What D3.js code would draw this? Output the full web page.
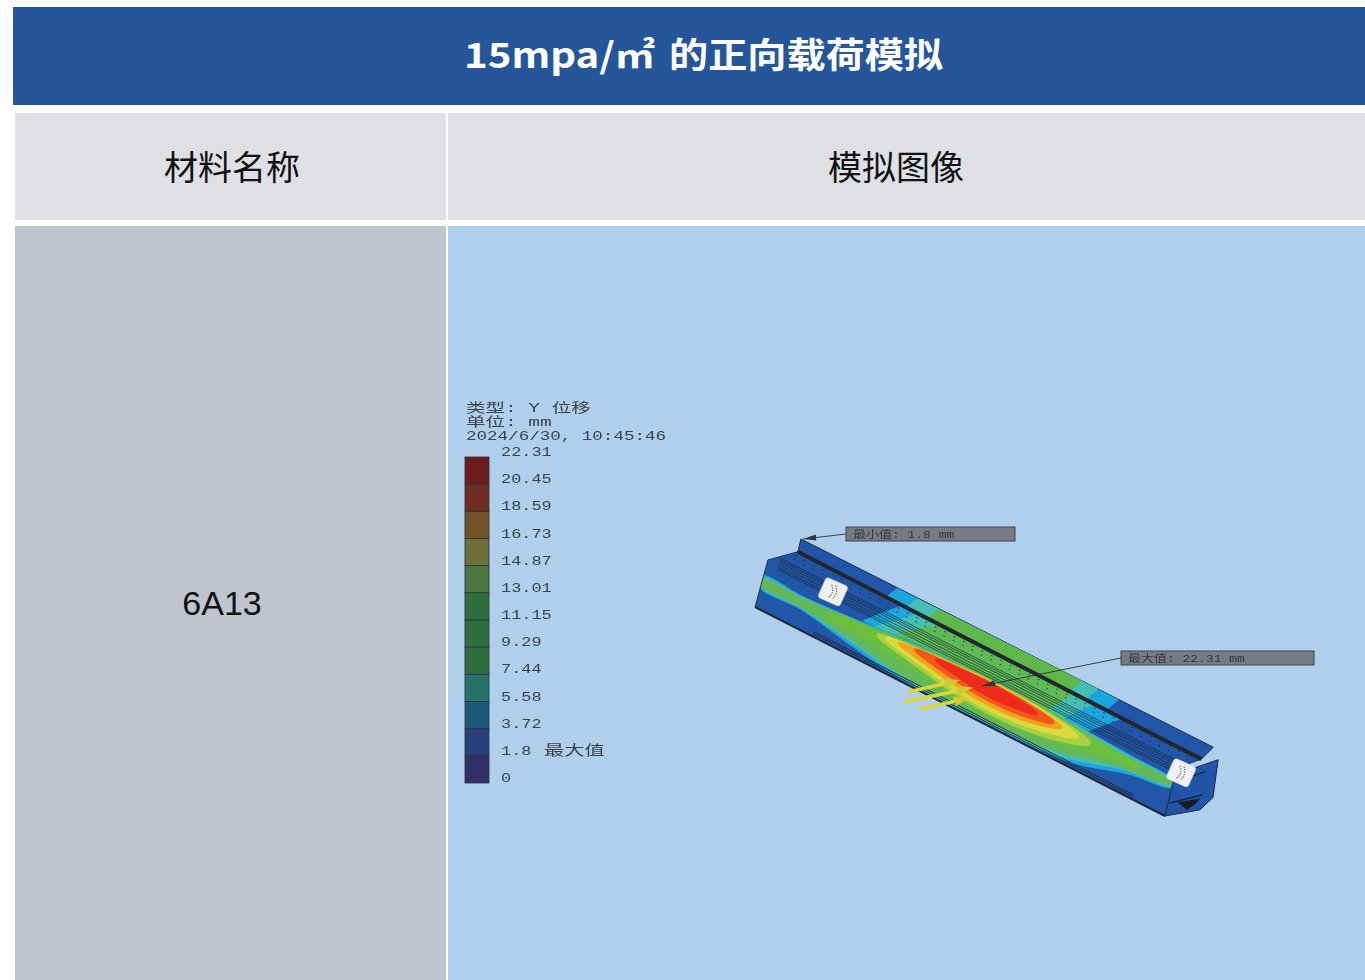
<!DOCTYPE html>
<html>
<head>
<meta charset="utf-8">
<script src="https://cdn.jsdelivr.net/npm/d3@7"></script>
<style>
  html, body { margin: 0; padding: 0; background: #fff; overflow: hidden; }
  svg { display: block; }
</style>
</head>
<body>
<svg id="chart" width="1365" height="980"></svg>
<script>
// legend
const legendValues = ['22.31', '20.45', '18.59', '16.73', '14.87', '13.01', '11.15', '9.29', '7.44', '5.58', '3.72', '1.8', '0'];
const legendColors = ['#6d1a1e', '#6f2e22', '#6f5228', '#6e6f38', '#4f7440', '#2f6f3c', '#2f6f3c', '#2f6f3c', '#25736a', '#1f5878', '#2a3f7c', '#322f66'];
const infoLines = ['类型: Y 位移', '单位: mm', '2024/6/30, 10:45:46'];

// contour bands on the main face, read as [along %, lower, upper] stations
const cyanBand = [[0, 38, 62], [10, 36, 62], [24, 16, 70], [36, 3, 80], [54, 2, 84], [76, 8, 80], [90, 40, 76], [100, 55, 70]];
const tealBand = [[0, 41, 59], [10, 38, 60], [24, 22, 68], [36, 7, 76], [54, 4, 84], [74, 10, 80], [88, 42, 74], [100, 58, 68]];
const greenBand = [[0, 43, 57], [10, 40, 58], [24, 26, 68], [36, 10, 76], [54, 6, 84], [72, 14, 80], [86, 42, 72], [100, 60, 66]];
const limeBand = [[16, 48, 56], [24, 42, 66], [38, 30, 78], [54, 16, 84], [70, 26, 80], [84, 50, 70], [92, 60, 65]];
const paleBand = [[28, 58, 63], [36, 42, 72], [54, 21, 82], [70, 30, 78], [80, 57, 64]];
const yellowBand = [[30, 60, 65], [38, 46, 74], [54, 26, 81], [68, 36, 77], [77, 58, 63]];
const orangeBand = [[33, 63, 67], [40, 50, 74], [54, 35, 80], [66, 42, 76], [73, 60, 65]];
const emberBand = [[37, 66, 70], [44, 53, 76], [54, 43, 79], [64, 47, 76], [71, 62, 67]];
const redBand = [[42, 67, 71], [48, 57, 76], [54, 50, 78], [60, 52, 76], [67, 63, 67]];
const faceBands = [cyanBand, tealBand, greenBand, limeBand, paleBand, yellowBand, orangeBand, emberBand, redBand];
const faceColors = ['#1fa6de', '#45bfb4', '#63b85a', '#6abf3c', '#a8cf44', '#d8dc3a', '#f6a11f', '#f4561e', '#ee2b1d'];

// upper face and flange, read as polygons of [along %, across %]
const upperCyan = [[24, 72], [32, 135], [86, 135], [78, 72]];
const upperTeal = [[27, 72], [36, 135], [79, 135], [72, 72]];
const upperGreen = [[31, 72], [41, 135], [74, 135], [68, 72]];
const flangeCyan = [[28, 135], [30, 160], [84, 163], [82, 135]];
const flangeTeal = [[33, 135], [35, 160], [79, 163], [77, 135]];
const flangeGreen = [[38, 135], [40, 160], [75, 163], [73, 135]];
const beamPatches = [upperCyan, upperTeal, upperGreen, flangeCyan, flangeTeal, flangeGreen];
const patchColors = ['#1fa6de', '#45bfb4', '#5dba55', '#1fa6de', '#45bfb4', '#5cb848'];

// outline of the extrusion
const faceOutline = [[0, 0], [100, 0], [100, 94], [105, 132], [6.5, 135], [0.4, 94]];
const flangeOutline = [[6.5, 135], [6.5, 160], [107, 163.5], [105, 132]];
const endOutline = [[100, 0], [100, 81], [108.7, 146], [109.5, 75], [107.3, 42]];
const endBars = [[[100.4, 68], [106.4, 113]], [[100.4, 27], [107, 70]]];
const endHatch = [[102, 35], [106.8, 62], [106, 48], [104.5, 30]];
const stringerLevels = [86, 90, 95, 100, 104, 108];
const dotLevels = [118, 126];
const edgeLevels = [5, 9];
const loadArrows = [[[37.7, -12], [48.4, 55]], [[37.5, -32], [51.6, 54]], [[41, -32], [51.5, 33]]];
const tags = [[16.2, 96], [101.3, 90]];

// callouts
const calloutMin = { text: '最小值: 1.8 mm', at: [7, 162] };
const calloutMax = { text: '最大值: 22.31 mm', at: [53.5, 64.6] };

const svg = d3.select('#chart');
const defs = svg.append('defs');
defs.append('filter').attr('id', 'soft').append('feGaussianBlur').attr('stdDeviation', 0.5);

// table background
svg.append('rect').attr('x', 13).attr('y', 7).attr('width', 1352).attr('height', 98).attr('fill', '#25569a');
svg.append('rect').attr('x', 15).attr('y', 113).attr('width', 431).attr('height', 107).attr('fill', '#dfe0e4');
svg.append('rect').attr('x', 448).attr('y', 113).attr('width', 917).attr('height', 107).attr('fill', '#dfe0e4');
svg.append('rect').attr('x', 15).attr('y', 226).attr('width', 431).attr('height', 754).attr('fill', '#c0c5cd');
svg.append('rect').attr('x', 448).attr('y', 226).attr('width', 917).attr('height', 754).attr('fill', '#b0cfec');

const cjk = '"Noto Sans CJK SC", "Noto Sans", sans-serif';

// title is two runs, stretched a bit wider than tall in the original
svg.append('text')
  .attr('x', 464).attr('y', 68)
  .attr('textLength', 191).attr('lengthAdjust', 'spacingAndGlyphs')
  .attr('font-family', cjk).attr('font-weight', 700).attr('font-size', 35)
  .attr('fill', '#fff')
  .text('15mpa/㎡');
svg.append('text')
  .attr('x', 669).attr('y', 68)
  .attr('textLength', 274).attr('lengthAdjust', 'spacingAndGlyphs')
  .attr('font-family', cjk).attr('font-weight', 700).attr('font-size', 35)
  .attr('fill', '#fff')
  .text('的正向载荷模拟');

svg.append('text').attr('x', 232).attr('y', 180).attr('text-anchor', 'middle')
  .attr('font-family', cjk).attr('font-size', 34).attr('fill', '#111').text('材料名称');
svg.append('text').attr('x', 896).attr('y', 180).attr('text-anchor', 'middle')
  .attr('font-family', cjk).attr('font-size', 34).attr('fill', '#111').text('模拟图像');
svg.append('text').attr('x', 222).attr('y', 615).attr('text-anchor', 'middle')
  .attr('font-family', '"Liberation Sans", Arial, sans-serif').attr('font-size', 34).attr('fill', '#111').text('6A13');

// legend
const legend = svg.append('g').attr('filter', 'url(#soft)');
const mono = '"Liberation Mono", "Noto Sans CJK SC", monospace';
const legendY = d3.scalePoint().domain(legendValues).range([457, 783]);

legend.selectAll('.swatch')
  .data(legendColors)
  .enter().append('rect')
  .attr('class', 'swatch')
  .attr('x', 465)
  .attr('y', (d, i) => legendY(legendValues[i]))
  .attr('width', 24)
  .attr('height', legendY.step())
  .attr('fill', d => d)
  .attr('stroke', '#2b3140')
  .attr('stroke-width', 0.8);

legend.selectAll('.value')
  .data(legendValues)
  .enter().append('text')
  .attr('class', 'value')
  .attr('transform', d => `translate(501,${legendY(d) - 1}) scale(1.3,1)`)
  .attr('font-family', mono).attr('font-size', 13).attr('fill', '#3c4248')
  .text(d => d);

legend.append('text')
  .attr('transform', `translate(544,${legendY('1.8') - 1}) scale(1.45,1)`)
  .attr('font-family', cjk).attr('font-size', 14).attr('fill', '#3c4248')
  .text('最大值');

const infoY = d3.scalePoint().domain(infoLines).range([412, 440]);
legend.selectAll('.info')
  .data(infoLines)
  .enter().append('text')
  .attr('class', 'info')
  .attr('transform', (d, i) => `translate(466,${infoY(d)}) scale(${i < 2 ? 1.5 : 1.35},1)`)
  .attr('font-family', mono).attr('font-size', 13).attr('fill', '#3c4248')
  .text(d => d);

// beam: along % and across % are mapped on to a skewed plane
const alongX = d3.scaleLinear().domain([0, 100]).range([755, 1165]);
const alongY = d3.scaleLinear().domain([0, 100]).range([607, 816]);
const acrossX = d3.scaleLinear().domain([0, 100]).range([0, 12]);
const acrossY = d3.scaleLinear().domain([0, 100]).range([0, -51]);
const px = d => alongX(d[0]) + acrossX(d[1]);
const py = d => alongY(d[0]) + acrossY(d[1]);

const poly = d3.line().x(px).y(py).curve(d3.curveLinearClosed);
const lensEdge = d3.line().x(px).y(py).curve(d3.curveCatmullRomClosed.alpha(0.5));
const lensPoints = band => band.map(d => [d[0], d[1]]).concat(band.slice().reverse().map(d => [d[0], d[2]]));

const beam = svg.append('g').attr('filter', 'url(#soft)');

beam.append('path').attr('d', poly(endOutline)).attr('fill', '#2055a8').attr('stroke', '#1a2a44').attr('stroke-width', 1);
beam.append('path').attr('d', poly(flangeOutline)).attr('fill', '#2256a8').attr('stroke', '#1d2a3c').attr('stroke-width', 1);
beam.append('path').attr('d', poly(faceOutline)).attr('fill', '#2256a8');

const clip = defs.append('clipPath').attr('id', 'beam-clip');
clip.append('path').attr('d', poly(faceOutline));
clip.append('path').attr('d', poly(flangeOutline));

const field = beam.append('g').attr('clip-path', 'url(#beam-clip)');

field.selectAll('.patch')
  .data(beamPatches)
  .enter().append('path')
  .attr('class', 'patch')
  .attr('d', poly)
  .attr('fill', (d, i) => patchColors[i]);

field.selectAll('.band')
  .data(faceBands)
  .enter().append('path')
  .attr('class', 'band')
  .attr('d', d => lensEdge(lensPoints(d)))
  .attr('fill', (d, i) => faceColors[i]);

// longitudinal stringers
field.selectAll('.stringer')
  .data(stringerLevels)
  .enter().append('line')
  .attr('class', 'stringer')
  .attr('x1', d => px([3, d])).attr('y1', d => py([3, d]))
  .attr('x2', d => px([103, d])).attr('y2', d => py([103, d]))
  .attr('stroke', '#1b2430').attr('stroke-width', 0.65);

field.selectAll('.dots')
  .data(dotLevels)
  .enter().append('line')
  .attr('class', 'dots')
  .attr('x1', d => px([6, d])).attr('y1', d => py([6, d]))
  .attr('x2', d => px([103, d])).attr('y2', d => py([103, d]))
  .attr('stroke', '#1b2430').attr('stroke-width', 1).attr('stroke-dasharray', '1.5,9');

field.selectAll('.edge')
  .data(edgeLevels)
  .enter().append('line')
  .attr('class', 'edge')
  .attr('x1', d => px([14, d])).attr('y1', d => py([14, d]))
  .attr('x2', d => px([92, d])).attr('y2', d => py([92, d]))
  .attr('stroke', '#20262e').attr('stroke-width', 0.9);

// thick lip under the flange and the bottom edge
beam.append('line')
  .attr('x1', px([6.5, 135])).attr('y1', py([6.5, 135]))
  .attr('x2', px([105, 132])).attr('y2', py([105, 132]))
  .attr('stroke', '#23272c').attr('stroke-width', 4);
beam.append('line')
  .attr('x1', px([0, 0])).attr('y1', py([0, 0]))
  .attr('x2', px([100, 0])).attr('y2', py([100, 0]))
  .attr('stroke', '#20262e').attr('stroke-width', 2);
beam.append('path').attr('d', poly(faceOutline)).attr('fill', 'none').attr('stroke', '#1d2a3c').attr('stroke-width', 0.9);

// end frame
endBars.forEach(b => {
  beam.append('line')
    .attr('x1', px(b[0])).attr('y1', py(b[0]))
    .attr('x2', px(b[1])).attr('y2', py(b[1]))
    .attr('stroke', '#161e2a').attr('stroke-width', 1.2);
});
beam.append('path').attr('d', poly(endHatch)).attr('fill', '#1b1f26');

// white tags at both ends
const tag = beam.selectAll('.tag')
  .data(tags)
  .enter().append('g')
  .attr('class', 'tag')
  .attr('transform', d => `translate(${px(d)},${py(d)}) rotate(24)`);
tag.append('rect')
  .attr('x', -12).attr('y', -11).attr('width', 24).attr('height', 22).attr('rx', 3)
  .attr('fill', '#eef0f2').attr('stroke', '#c8ccd2').attr('stroke-width', 0.6);
tag.append('path')
  .attr('d', 'M-4,-6Q2,0-2,7M0,-7Q6,0,2,7')
  .attr('fill', 'none').attr('stroke', '#767a80').attr('stroke-width', 1.2).attr('stroke-dasharray', '1.5,1');

// yellow load arrows
loadArrows.forEach(a => {
  const angle = Math.atan2(py(a[1]) - py(a[0]), px(a[1]) - px(a[0])) * 180 / Math.PI;
  beam.append('line')
    .attr('x1', px(a[0])).attr('y1', py(a[0]))
    .attr('x2', px(a[1]) - 8).attr('y2', py(a[1]) + 2)
    .attr('stroke', '#dcd636').attr('stroke-width', 3.6);
  beam.append('path')
    .attr('transform', `translate(${px(a[1])},${py(a[1])}) rotate(${angle})`)
    .attr('d', 'M0,0L-16,-5L-16,5Z')
    .attr('fill', '#cfc935');
});

// callouts
const callouts = svg.append('g').attr('filter', 'url(#soft)');
const boxMin = { x: 846, y: 527, w: 169, h: 14 };
const boxMax = { x: 1121, y: 651, w: 193, h: 14 };

[[calloutMin, boxMin], [calloutMax, boxMax]].forEach(([c, b]) => {
  const angle = Math.atan2(b.y + b.h / 2 - py(c.at), b.x - px(c.at)) * 180 / Math.PI;
  callouts.append('line')
    .attr('x1', b.x).attr('y1', b.y + b.h / 2)
    .attr('x2', px(c.at)).attr('y2', py(c.at))
    .attr('stroke', '#2c3036').attr('stroke-width', 0.9);
  callouts.append('path')
    .attr('transform', `translate(${px(c.at)},${py(c.at)}) rotate(${angle})`)
    .attr('d', 'M0,0L13,-3L13,3Z')
    .attr('fill', '#33373d');
  callouts.append('rect')
    .attr('x', b.x).attr('y', b.y).attr('width', b.w).attr('height', b.h)
    .attr('fill', '#787a86').attr('stroke', '#3d4048').attr('stroke-width', 1);
  callouts.append('text')
    .attr('transform', `translate(${b.x + 7},${b.y + 10.5}) scale(1.3,1)`)
    .attr('font-family', mono).attr('font-size', 10).attr('fill', '#33363c')
    .text(c.text);
});
</script>
</body>
</html>
